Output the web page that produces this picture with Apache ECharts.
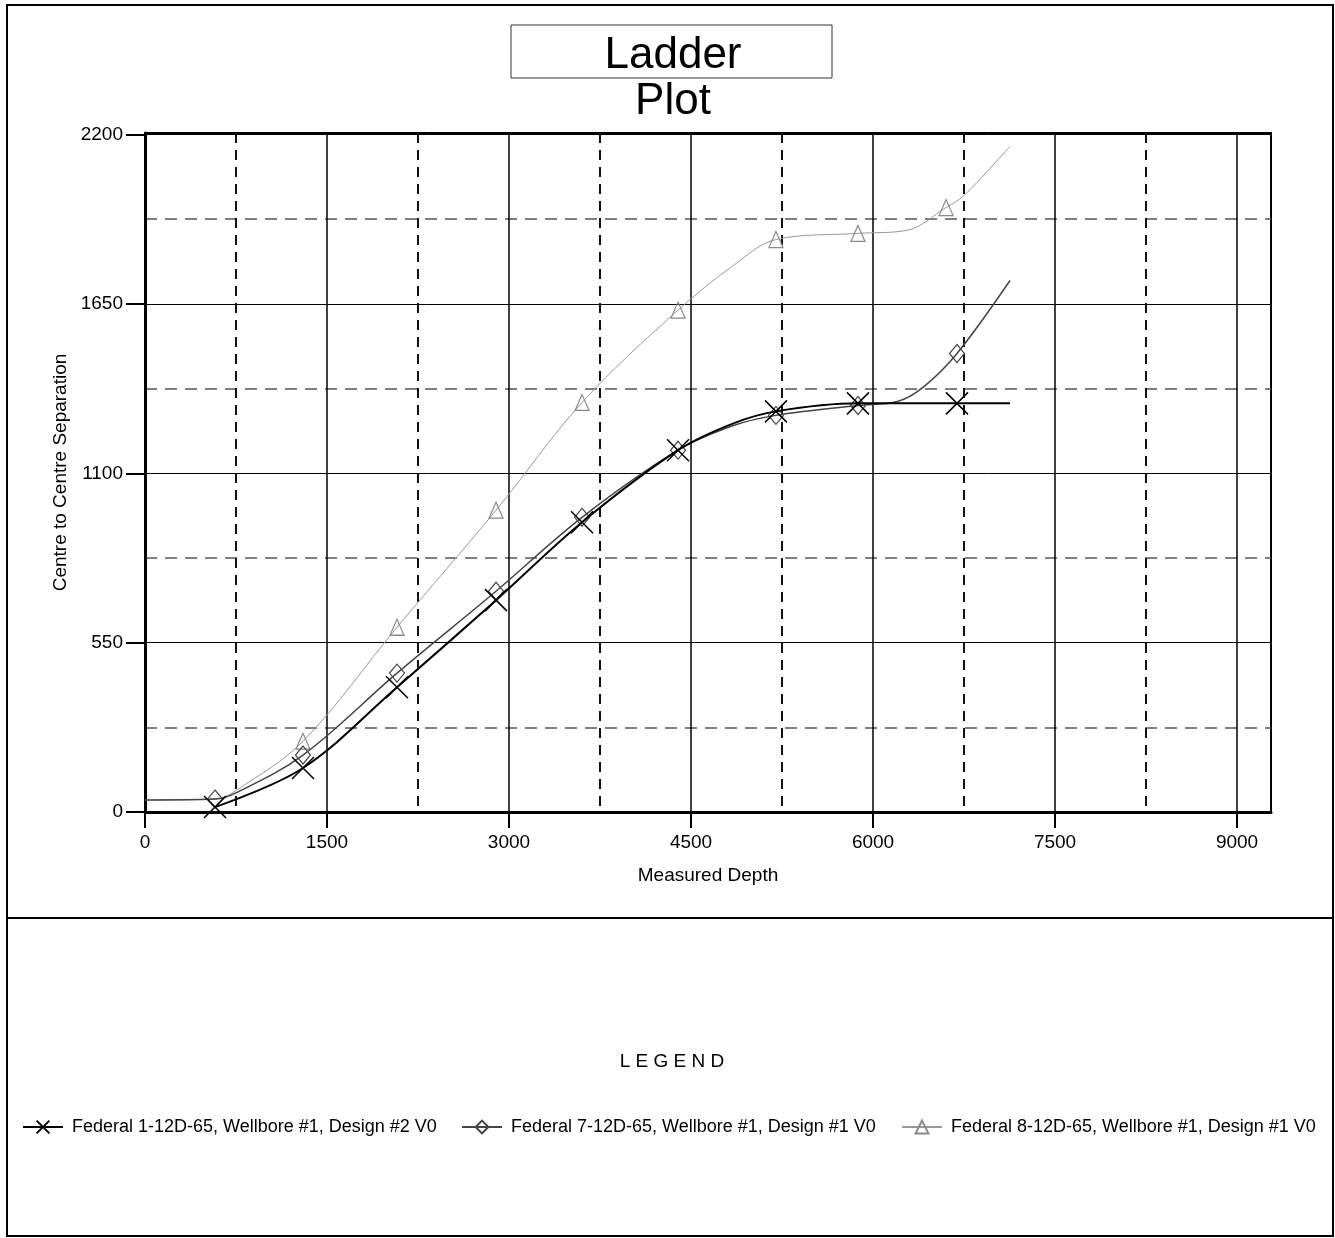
<!DOCTYPE html>
<html>
<head>
<meta charset="utf-8">
<script src="https://cdn.jsdelivr.net/npm/echarts@6/dist/echarts.min.js"></script>
<style>
html,body{margin:0;padding:0;background:#fff;}
#chart{width:1335px;height:1238px;}
</style>
</head>
<body>
<div id="chart"></div>
<script>
// ---- data ----
const seriesNames = [
  'Federal 1-12D-65, Wellbore #1, Design #2 V0',
  'Federal 7-12D-65, Wellbore #1, Design #1 V0',
  'Federal 8-12D-65, Wellbore #1, Design #1 V0'
];
const s1Depth  = [577, 1302, 2077, 2893, 3602, 4393, 4850, 5200, 5876, 6300, 6692, 7129];
const s1Value  = [16, 143, 405, 688, 941, 1175, 1262, 1301, 1327, 1327, 1327, 1327];
const s1Marked = [1, 1, 1, 1, 1, 1, 0, 1, 1, 0, 1, 0];

const s2Depth  = [0, 577, 750, 1302, 2077, 2893, 3602, 4393, 4850, 5200, 5876, 6200, 6412, 6692, 7129];
const s2Value  = [39, 42, 62, 185, 451, 717, 957, 1175, 1255, 1288, 1320, 1333, 1379, 1489, 1726];
const s2Marked = [0, 1, 0, 1, 1, 1, 1, 1, 0, 1, 1, 0, 0, 1, 0];

const s3Depth  = [0, 577, 750, 1302, 2077, 2893, 3602, 4393, 4850, 5200, 5876, 6280, 6602, 6750, 7129];
const s3Value  = [39, 42, 70, 230, 600, 980, 1330, 1630, 1775, 1859, 1879, 1889, 1963, 2002, 2162];
const s3Marked = [0, 0, 0, 1, 1, 1, 1, 1, 0, 1, 1, 0, 1, 0, 0];

const xTicks = [0, 1500, 3000, 4500, 6000, 7500, 9000];
const xMinor = [750, 2250, 3750, 5250, 6750, 8250];
const yTicks = [0, 550, 1100, 1650, 2200];
const yMinor = [275, 825, 1375, 1925];
const xMax = 9280, yMax = 2205;

// ---- build ----
function build(d, v, m) {
  return d.map((x, i) => m[i] ? [x, v[i]] : { value: [x, v[i]], symbol: 'none' });
}
const NARROW = '"Liberation Sans Narrow", "Liberation Sans", Arial, sans-serif';
const SANS = '"Liberation Sans", Arial, sans-serif';

const chart = echarts.init(document.getElementById('chart'), null, { renderer: 'canvas' });
const plainFmt = v => String(v);

const option = {
  backgroundColor: '#fff',
  animation: false,
  title: {
    text: 'Ladder\nPlot',
    left: 668, top: 28,
    textAlign: 'center',
    textStyle: { fontFamily: SANS, fontSize: 44, fontWeight: 'normal', color: '#000', lineHeight: 46 }
  },
  grid: {
    left: 145, top: 133, width: 1126, height: 679,
    show: true, borderColor: '#000', borderWidth: 2, backgroundColor: 'transparent'
  },
  xAxis: [
    {
      type: 'value', min: 0, max: xMax, position: 'bottom',
      name: 'Measured Depth', nameLocation: 'middle', nameGap: 54,
      nameTextStyle: { fontFamily: SANS, fontSize: 19, color: '#000' },
      axisLine: { show: true, onZero: false, lineStyle: { color: '#000', width: 3 } },
      axisTick: { show: true, length: 16, customValues: xTicks, lineStyle: { color: '#000', width: 2 } },
      axisLabel: { customValues: xTicks, formatter: plainFmt, margin: 21, fontFamily: NARROW, fontSize: 19, color: '#000' },
      splitLine: { show: true, lineStyle: { color: '#000', width: 1.5 } }
    },
    {
      type: 'value', min: 0, max: xMax, position: 'bottom',
      axisLine: { show: false }, axisLabel: { show: false },
      axisTick: { show: false, customValues: xMinor },
      splitLine: { show: true, lineStyle: { color: '#111', width: 2, type: [10, 7] } }
    }
  ],
  yAxis: [
    {
      type: 'value', min: 0, max: yMax, position: 'left',
      name: 'Centre to Centre Separation', nameLocation: 'middle', nameGap: 68,
      nameTextStyle: { fontFamily: SANS, fontSize: 19, color: '#000' },
      axisLine: { show: true, onZero: false, lineStyle: { color: '#000', width: 3 } },
      axisTick: { show: true, length: 19, customValues: yTicks, lineStyle: { color: '#000', width: 2 } },
      axisLabel: { customValues: yTicks, formatter: plainFmt, margin: 22, fontFamily: NARROW, fontSize: 19, color: '#000' },
      splitLine: { show: true, lineStyle: { color: '#000', width: 1 } }
    },
    {
      type: 'value', min: 0, max: yMax, position: 'left',
      axisLine: { show: false }, axisLabel: { show: false },
      axisTick: { show: false, customValues: yMinor },
      splitLine: { show: true, lineStyle: { color: '#555', width: 1.5, type: [12, 8] } }
    }
  ],
  legend: [
    { data: [seriesNames[0]], left: 17, top: 1113 },
    { data: [seriesNames[1]], left: 456, top: 1113 },
    { data: [seriesNames[2]], left: 896, top: 1113 }
  ].map(l => Object.assign(l, {
    orient: 'horizontal', itemWidth: 40, itemHeight: 16, itemGap: 8,
    textStyle: { fontFamily: SANS, fontSize: 18, color: '#000', padding: [0, 0, 0, 4] }
  })),
  series: [
    {
      name: seriesNames[0], type: 'line', smooth: 0.35, z: 5,
      data: build(s1Depth, s1Value, s1Marked),
      symbol: 'path://M0 0L20 20M20 0L0 20', symbolSize: 22,
      itemStyle: { color: 'none', borderColor: '#000', borderWidth: 1.5 },
      lineStyle: { color: '#000', width: 2 }
    },
    {
      name: seriesNames[1], type: 'line', smooth: 0.35, z: 4,
      data: build(s2Depth, s2Value, s2Marked),
      symbol: 'diamond', symbolSize: [15, 18],
      itemStyle: { color: 'none', borderColor: '#444', borderWidth: 1.2 },
      lineStyle: { color: '#444', width: 1.5 }
    },
    {
      name: seriesNames[2], type: 'line', smooth: 0.35, z: 3,
      data: build(s3Depth, s3Value, s3Marked),
      symbol: 'triangle', symbolSize: [14, 16],
      itemStyle: { color: 'none', borderColor: '#888', borderWidth: 1.2 },
      lineStyle: { color: '#999', width: 1 }
    }
  ],
  graphic: [
    { type: 'rect', silent: true, z: -1, shape: { x: 7, y: 5, width: 1326, height: 1231 },
      style: { fill: 'none', stroke: '#000', lineWidth: 2 } },
    { type: 'line', silent: true, shape: { x1: 7, y1: 918, x2: 1333, y2: 918 },
      style: { stroke: '#000', lineWidth: 2 } },
    { type: 'rect', silent: true, shape: { x: 511, y: 25, width: 321, height: 53 },
      style: { fill: 'none', stroke: '#333', lineWidth: 1 } },
    { type: 'text', silent: true, x: 672, y: 1062,
      style: { text: 'L E G E N D', fill: '#000', font: '19px ' + SANS, textAlign: 'center', textVerticalAlign: 'middle' } }
  ]
};
chart.setOption(option);
</script>
</body>
</html>
